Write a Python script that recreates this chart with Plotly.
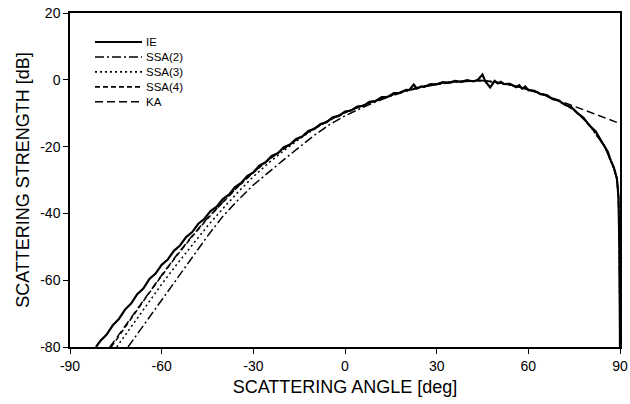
import plotly.graph_objects as go

# ---------------- data ----------------
ie_angle = [-81.5, -80, -78, -76, -74, -72, -70, -68, -66, -64, -62, -60, -58, -56, -54, -52,
            -50, -48, -46, -44, -42, -40, -38, -36, -34, -32, -30, -28, -26, -24, -22, -20,
            -18, -16, -14, -12, -10, -8, -6, -4, -2, 0, 2, 4, 6, 8, 10, 12, 14, 16, 18, 20,
            21, 22.5, 23.5, 25, 26, 28, 30, 32, 34, 36, 38, 40, 42, 43.5, 45, 46, 47.5, 49, 50,
            51, 52, 54, 56, 57, 58, 59, 60, 62, 64, 66, 68, 70, 72, 74, 76, 78, 80, 82, 84,
            86, 87, 88, 89, 89.5, 89.8, 90]
ie_db = [-80.0, -78.1, -76.3, -73.5, -71.6, -68.8, -67.0, -64.2, -62.5, -59.6, -58.0, -55.4,
         -53.8, -51.2, -49.6, -47.1, -45.6, -43.1, -41.6, -39.3, -38.0, -35.7, -34.4, -32.1,
         -30.9, -28.8, -27.7, -25.7, -24.7, -22.8, -22.0, -20.2, -19.4, -17.7, -17.0, -15.3,
         -14.7, -13.2, -12.7, -11.2, -10.8, -9.5, -9.2, -8.0, -7.8, -6.6, -6.4, -5.2, -5.1,
         -4.0, -3.9, -3.0, -3.1, -1.4, -2.6, -2.0, -2.1, -1.3, -1.4, -0.7, -0.9, -0.3, -0.6,
         -0.1, -0.5, 0.0, 1.6, -0.6, -2.3, -0.3, -1.1, -0.6, -1.3, -1.2, -2.2, -1.6, -2.7,
         -2.0, -3.1, -3.3, -4.3, -4.6, -5.8, -6.2, -7.5, -8.1, -9.9, -11.3, -13.7, -15.4,
         -18.5, -21.5, -24.2, -26.3, -29.7, -35.0, -50.0, -80.0]

ssa2_angle = [-71, -65, -60, -55, -50, -45, -40, -35, -30, -25, -20, -15, -10, -5, 0, 5, 10,
              15, 20, 25, 30, 35, 40, 45, 50, 55, 60, 65, 70, 75, 80, 85, 88, 89, 89.5, 89.8, 90]
ssa2_db = [-80.0, -72.4, -66.0, -59.6, -53.2, -46.8, -40.9, -36.0, -31.5, -27.6, -23.9, -20.2,
           -16.6, -13.4, -10.8, -8.6, -6.6, -4.9, -3.4, -2.3, -1.4, -0.8, -0.4, -0.2, -0.8,
           -1.7, -2.9, -4.5, -6.4, -9.0, -13.5, -20.0, -26.5, -29.5, -35.0, -50.0, -80.0]

ssa3_angle = [-74.7, -70, -65, -60, -55, -50, -45, -40, -35, -30, -25, -20, -15, -10, -5, 0, 5,
              10, 15, 20, 25, 30, 35, 40, 45, 50, 55, 60, 65, 70, 75, 80, 85, 88, 89, 89.5,
              89.8, 90]
ssa3_db = [-80.0, -74.0, -67.5, -61.2, -55.2, -49.4, -43.8, -38.6, -33.6, -29.0, -24.9, -21.2,
           -17.8, -14.7, -12.1, -9.9, -7.9, -6.2, -4.6, -3.2, -2.1, -1.2, -0.6, -0.3, -0.2,
           -0.8, -1.7, -2.9, -4.5, -6.4, -9.0, -13.5, -20.0, -26.5, -29.5, -35.0, -50.0, -80.0]

ssa4_angle = [-76.5, -75, -70, -65, -60, -55, -50, -45, -40, -35, -30, -25, -20, -15, -10, -5,
              0, 5, 10, 15, 20, 25, 30, 35, 40, 45, 50, 55, 60, 65, 70, 75, 80, 85, 88, 89,
              89.5, 89.8, 90]
ssa4_db = [-80.0, -78.0, -71.5, -65.0, -58.7, -52.6, -46.9, -41.6, -36.7, -32.0, -27.8, -24.0,
           -20.6, -17.4, -14.5, -12.0, -9.8, -7.9, -6.2, -4.6, -3.2, -2.1, -1.2, -0.6, -0.3,
           -0.2, -0.8, -1.7, -2.9, -4.5, -6.4, -9.0, -13.5, -20.0, -26.5, -29.5, -35.0,
           -50.0, -80.0]

ka_angle = [-77, -75, -70, -65, -60, -55, -50, -45, -40, -35, -30, -25, -20, -15, -10, -5, 0,
            5, 10, 15, 20, 25, 30, 35, 40, 45, 50, 55, 60, 65, 70, 72, 75, 80, 85, 90]
ka_db = [-80.0, -77.6, -71.2, -64.8, -58.5, -52.4, -46.7, -41.4, -36.5, -31.9, -27.7, -23.9,
         -20.6, -17.4, -14.5, -12.0, -9.8, -7.9, -6.2, -4.6, -3.2, -2.1, -1.2, -0.6, -0.3,
         -0.2, -0.8, -1.7, -2.9, -4.3, -6.2, -6.9, -8.0, -9.8, -11.5, -13.1]

series_names = ["IE", "SSA(2)", "SSA(3)", "SSA(4)", "KA"]
x_ticks = [-90, -60, -30, 0, 30, 60, 90]
y_ticks = [-80, -60, -40, -20, 0, 20]

# ---------------- styling ----------------
FONT = "Liberation Sans, Arial, Helvetica, sans-serif"
dashes = {
    "IE": "solid",
    "SSA(2)": "9px,3px,2px,3px",
    "SSA(3)": "2px,3px",
    "SSA(4)": "5px,3px",
    "KA": "8px,4px",
}
widths = {"IE": 2.2, "SSA(2)": 1.5, "SSA(3)": 1.5, "SSA(4)": 1.5, "KA": 1.5}

data = {
    "IE": (ie_angle, ie_db),
    "SSA(2)": (ssa2_angle, ssa2_db),
    "SSA(3)": (ssa3_angle, ssa3_db),
    "SSA(4)": (ssa4_angle, ssa4_db),
    "KA": (ka_angle, ka_db),
}

fig = go.Figure()
for name in ["KA", "SSA(2)", "SSA(3)", "SSA(4)", "IE"]:
    xs, ys = data[name]
    fig.add_trace(go.Scatter(
        x=xs, y=ys, mode="lines", name=name, showlegend=False,
        line=dict(color="black", width=widths[name], dash=dashes[name]),
    ))

# compact legend (sample lines + one multi-line label block) in paper coordinates
L, R, T, B = 70, 620, 13, 347
def px2paper_x(px):
    return (px - L) / (R - L)
def px2paper_y(py):
    return 1 - (py - T) / (B - T)

LEG_FONT = 11.5
row_gap = LEG_FONT * 1.3
first_row = 42
legend_rows = [first_row + i * row_gap for i in range(len(series_names))]
for name, row in zip(series_names, legend_rows):
    fig.add_shape(type="line", xref="paper", yref="paper",
                  x0=px2paper_x(95), x1=px2paper_x(142),
                  y0=px2paper_y(row), y1=px2paper_y(row),
                  line=dict(color="black", width=1.6 if name != "IE" else 2,
                            dash=dashes[name]))
mid_row = (legend_rows[0] + legend_rows[-1]) / 2
fig.add_annotation(xref="paper", yref="paper", x=px2paper_x(145), y=px2paper_y(mid_row),
                   text="<br>".join(series_names), showarrow=False, align="left",
                   xanchor="left", yanchor="middle", borderpad=0,
                   font=dict(family=FONT, size=LEG_FONT, color="black"))

fig.update_layout(
    width=630, height=404,
    margin=dict(l=L, r=630 - R, t=T, b=404 - B, autoexpand=False),
    paper_bgcolor="white", plot_bgcolor="white",
    font=dict(family=FONT, color="black"),
    showlegend=False,
)
fig.update_xaxes(
    range=[-90, 90], tickvals=x_ticks, ticktext=[str(v) for v in x_ticks],
    showgrid=False, zeroline=False, automargin=False,
    showline=True, linecolor="black", linewidth=1.5, mirror=True,
    ticks="outside", ticklen=5, tickwidth=1.2, tickcolor="black",
    tickfont=dict(family=FONT, size=14, color="black"),
    title=dict(text="SCATTERING ANGLE [deg]", font=dict(family=FONT, size=18, color="black"),
               standoff=8),
)
fig.update_yaxes(
    range=[-80, 20], tickvals=y_ticks, ticktext=[str(v) for v in y_ticks],
    showgrid=False, zeroline=False, automargin=False,
    showline=True, linecolor="black", linewidth=1.5, mirror=True,
    ticks="outside", ticklen=5, tickwidth=1.2, tickcolor="black",
    tickfont=dict(family=FONT, size=14, color="black"),
    title=dict(text="SCATTERING STRENGTH [dB]", font=dict(family=FONT, size=18, color="black"),
               standoff=6),
)

fig.write_html("out.html")
